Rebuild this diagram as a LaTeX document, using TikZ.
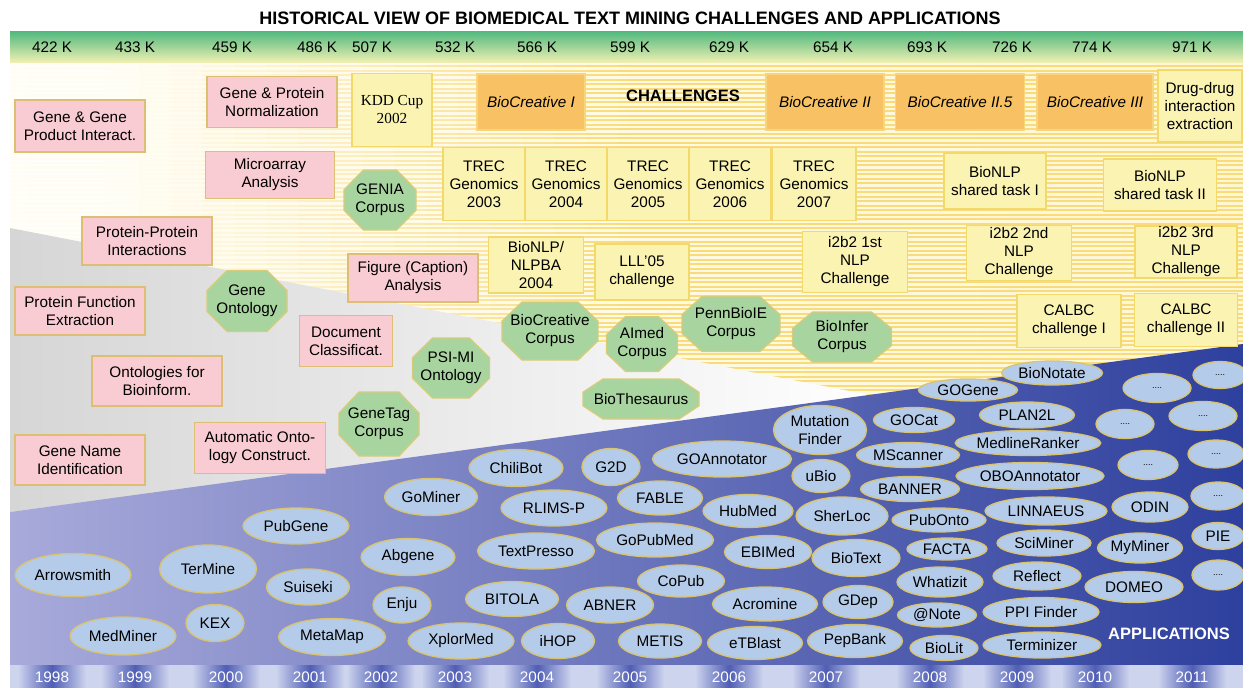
\documentclass[tikz,border=0pt]{standalone}
\usepackage{fontspec}
\setmainfont{Liberation Sans}
\newfontfamily\serifface{Liberation Serif}
\usetikzlibrary{shapes.geometric}

\definecolor{pinkF}{HTML}{F8CCD2}
\definecolor{pinkD}{HTML}{DDBE72}
\definecolor{chalF}{HTML}{FAF3B2}
\definecolor{chalD}{HTML}{F3D96A}
\definecolor{orangeF}{HTML}{F8C264}
\definecolor{orangeD}{HTML}{F6D57C}
\definecolor{octF}{HTML}{A8D4A0}
\definecolor{octD}{HTML}{D8CC7A}
\definecolor{appF}{HTML}{B4CCEA}
\definecolor{appD}{HTML}{D8C470}
\definecolor{blueL}{HTML}{A8AADA}
\definecolor{blueM}{HTML}{5865B6}
\definecolor{blueR}{HTML}{2E409E}
\definecolor{grayL}{HTML}{D6D6D6}
\definecolor{bandB}{HTML}{CDD4EE}
\definecolor{blobC}{HTML}{4F5DB4}
\definecolor{stripeC}{HTML}{F8DC7C}
\definecolor{creamL}{HTML}{FFFDF4}
\definecolor{creamR}{HTML}{FFF6D2}
\definecolor{bandTop}{HTML}{4FB87E}
\definecolor{bandMid}{HTML}{CDE8CF}
\definecolor{bandBot}{HTML}{F4F1B4}

\tikzset{
  txt/.style={font=\fontsize{15.3}{18}\selectfont, align=center, text=black},
  boxbase/.style={txt, rectangle, inner sep=0pt, line width=1.3pt},
  pinkbox/.style={boxbase, fill=pinkF, draw=pinkD},
  chalbox/.style={boxbase, fill=chalF, draw=chalD},
  bcbox/.style={boxbase, fill=orangeF, draw=orangeD, font=\fontsize{15.3}{18}\selectfont\itshape},
  octa/.style={fill=octF, draw=octD, line width=1.3pt},
  octtext/.style={txt, inner sep=0pt},
  app/.style={txt, ellipse, inner sep=0pt, fill=appF, draw=appD, line width=1.3pt},
  dotsapp/.style={app, font=\fontsize{9}{10}\selectfont},
  knum/.style={font=\fontsize{15.3}{18}\selectfont},
  yearlab/.style={font=\fontsize{15.3}{18}\selectfont, text=white},
}

% name, x, y, width, height, text
\newcommand\PBox[6]{\node[pinkbox, minimum width=#4pt, minimum height=#5pt] (#1) at (#2,#3) {#6};}
\newcommand\CBox[6]{\node[chalbox, minimum width=#4pt, minimum height=#5pt] (#1) at (#2,#3) {#6};}
\newcommand\OBox[6]{\node[bcbox, minimum width=#4pt, minimum height=#5pt] (#1) at (#2,#3) {#6};}
\newcommand\App[6]{\node[app, minimum width=#4pt, minimum height=#5pt] (#1) at (#2,#3) {#6};}
\newcommand\Dots[5]{\node[dotsapp, minimum width=#4pt, minimum height=#5pt] (#1) at (#2,#3) {....};}
\newcommand\GOct[6]{%
  \pgfmathsetmacro\oHW{#4/2}\pgfmathsetmacro\oHH{#5/2}%
  \pgfmathsetmacro\oDX{min(20,#4*0.27)}\pgfmathsetmacro\oDY{#5*0.33}%
  \path[octa] ({#2-\oHW+\oDX},{#3-\oHH}) -- ({#2+\oHW-\oDX},{#3-\oHH})
    -- ({#2+\oHW},{#3-\oHH+\oDY}) -- ({#2+\oHW},{#3+\oHH-\oDY})
    -- ({#2+\oHW-\oDX},{#3+\oHH}) -- ({#2-\oHW+\oDX},{#3+\oHH})
    -- ({#2-\oHW},{#3+\oHH-\oDY}) -- ({#2-\oHW},{#3-\oHH+\oDY}) -- cycle;
  \node[octtext] (#1) at (#2,#3) {#6};}

\begin{document}
\begin{tikzpicture}[x=1pt,y=-1pt]
\useasboundingbox (0,0) rectangle (1243,688);
\fill[white] (0,0) rectangle (1243,688);
\clip (0,0) rectangle (1243,688);

% title
\node[font=\fontsize{18}{20}\selectfont\bfseries] (title) at (630,18)
  {HISTORICAL VIEW OF BIOMEDICAL TEXT MINING CHALLENGES AND APPLICATIONS};

% yearly counts band
\shade[top color=bandTop, middle color=bandMid, bottom color=bandBot] (10,31) rectangle (1243,63);
\foreach \nm/\xx/\lab in {k1/52/422 K, k2/135/433 K, k3/232/459 K, k4/317/486 K, k5/372/507 K,
  k6/455/532 K, k7/537/566 K, k8/630/599 K, k9/729/629 K, k10/833/654 K, k11/927/693 K,
  k12/1012/726 K, k13/1092/774 K, k14/1192/971 K}
  \node[knum] (\nm) at (\xx,47) {\lab};

% challenge area: cream ground with yellow stripes growing stronger to the right
\shade[left color=creamL, right color=creamR] (10,63) rectangle (1243,665);
\foreach \i in {0,...,38} {
  \pgfmathsetmacro\xa{10+\i*32}
  \pgfmathsetmacro\xb{min(1243,\xa+32)}
  \pgfmathtruncatemacro\kk{min(100,max(4,(\i-2)*6))}
  \draw[line width=2pt, stripeC!\kk!white]
    \foreach \yy in {66,70.5,...,402} {(\xa,\yy) -- (\xb,\yy)};
}

% methods wedge
\shade[left color=grayL, right color=white] (10,228) -- (885,398) -- (10,512) -- cycle;

% applications wedge
\shade[left color=blueL, middle color=blueM, right color=blueR]
  (10,512) -- (1243,344) -- (1243,665) -- (10,665) -- cycle;

% years band: light strip with a darker glow behind each year
\fill[bandB] (10,665) rectangle (1243,688);
\foreach \xx in {52,135,226,310,381,455,537,630,729,826,930,1017,1095,1192} {
  \shade[left color=bandB, right color=blobC] ({\xx-34},665) rectangle (\xx,688);
  \shade[left color=blobC, right color=bandB] (\xx,665) rectangle ({\xx+34},688);
}
\foreach \nm/\xx/\lab in {y98/52/1998, y99/135/1999, y00/226/2000, y01/310/2001, y02/381/2002,
  y03/455/2003, y04/537/2004, y05/630/2005, y06/729/2006, y07/826/2007, y08/930/2008,
  y09/1017/2009, y10/1095/2010, y11/1192/2011}
  \node[yearlab] (\nm) at (\xx,677) {\lab};

% method topics
\PBox{pGG}{80}{126}{130}{52}{Gene \& Gene\\Product Interact.}
\PBox{pGPN}{272}{102}{130}{51}{Gene \& Protein\\Normalization}
\PBox{pMA}{270}{175}{129}{47}{Microarray\\Analysis}
\PBox{pPPI}{147}{241}{130}{48}{Protein-Protein\\Interactions}
\PBox{pPFE}{80}{311}{130}{48}{Protein Function\\Extraction}
\PBox{pOB}{157}{381}{130}{50}{Ontologies for\\Bioinform.}
\PBox{pGNI}{80}{460}{130}{50}{Gene Name\\Identification}
\PBox{pAOC}{260}{448}{131}{51}{Automatic Onto-\\logy Construct.}
\PBox{pDC}{346}{341}{93}{51}{Document\\Classificat.}
\PBox{pFCA}{413}{278}{130}{48}{Figure (Caption)\\Analysis}

% challenges
\node[chalbox, minimum width=80pt, minimum height=73pt, font=\fontsize{15.3}{18}\selectfont\serifface] (cKDD) at (392,110) {KDD Cup\\2002};
\CBox{cT03}{484}{184}{82}{73}{TREC\\Genomics\\2003}
\CBox{cT04}{566}{184}{82}{73}{TREC\\Genomics\\2004}
\CBox{cT05}{648}{184}{82}{73}{TREC\\Genomics\\2005}
\CBox{cT06}{730}{184}{82}{73}{TREC\\Genomics\\2006}
\CBox{cT07}{814}{184}{84}{73}{TREC\\Genomics\\2007}
\CBox{cNLPBA}{536}{265}{95}{56}{BioNLP/\\NLPBA\\2004}
\CBox{cLLL}{642}{272}{94}{56}{LLL'05\\challenge}
\CBox{cI2a}{855}{262}{105}{61}{i2b2 1st\\NLP\\Challenge}
\CBox{cI2b}{1019}{253}{105}{55}{i2b2 2nd\\NLP\\Challenge}
\CBox{cI2c}{1186}{252}{102}{52}{i2b2 3rd\\NLP\\Challenge}
\CBox{cCal1}{1069}{321}{104}{53}{CALBC\\challenge I}
\CBox{cCal2}{1186}{320}{103}{53}{CALBC\\challenge II}
\CBox{cBN1}{995}{181}{102}{56}{BioNLP\\shared task I}
\CBox{cBN2}{1160}{185}{113}{52}{BioNLP\\shared task II}
\CBox{cDDI}{1200}{106}{84}{72}{Drug-drug\\interaction\\extraction}
\OBox{oBC1}{531}{102}{108}{56}{BioCreative I}
\OBox{oBC2}{825}{102}{118}{56}{BioCreative II}
\OBox{oBC25}{960}{102}{129}{56}{BioCreative II.5}
\OBox{oBC3}{1095}{102}{116}{56}{BioCreative III}
\node[font=\fontsize{16.5}{18}\selectfont\bfseries] (chal) at (683,96) {CHALLENGES};

% corpora and resources
\GOct{gGENIA}{380}{200}{72}{60}{GENIA\\Corpus}
\GOct{gGO}{247}{301}{80}{61}{Gene\\Ontology}
\GOct{gPSI}{451}{368}{77}{60}{PSI-MI\\Ontology}
\GOct{gGT}{379}{424}{80}{64}{GeneTag\\Corpus}
\GOct{gBCC}{550}{331}{96}{58}{BioCreative\\Corpus}
\GOct{gAImed}{642}{344}{71}{55}{AImed\\Corpus}
\GOct{gPenn}{731}{324}{98}{55}{PennBioIE\\Corpus}
\GOct{gInfer}{842}{337}{99}{50}{BioInfer\\Corpus}
\GOct{gThes}{641}{399}{116}{40}{BioThesaurus}

% applications
\App{aArrow}{73}{575}{116}{43}{Arrowsmith}
\App{aTerMine}{208}{569}{97}{48}{TerMine}
\App{aPubGene}{296}{526}{106}{36}{PubGene}
\App{aSuiseki}{308}{587}{83}{36}{Suiseki}
\App{aMedMiner}{123}{636}{106}{38}{MedMiner}
\App{aKEX}{215}{623}{58}{37}{KEX}
\App{aMetaMap}{332}{637}{107}{37}{MetaMap}
\App{aGoMiner}{431}{497}{93}{37}{GoMiner}
\App{aAbgene}{408}{557}{94}{37}{Abgene}
\App{aEnju}{402}{605}{58}{36}{Enju}
\App{aXplor}{461}{641}{106}{36}{XplorMed}
\App{aChili}{516}{468}{94}{37}{ChiliBot}
\App{aG2D}{611}{467}{58}{37}{G2D}
\App{aGOAnn}{722}{459}{139}{36}{GOAnnotator}
\App{aRLIMS}{554}{508}{106}{36}{RLIMS-P}
\App{aFABLE}{660}{498}{85}{34}{FABLE}
\App{aHubMed}{748}{511}{90}{33}{HubMed}
\App{aTextPresso}{536}{551}{117}{36}{TextPresso}
\App{aGoPubMed}{655}{540}{117}{34}{GoPubMed}
\App{aEBIMed}{768}{552}{87}{33}{EBIMed}
\App{aCoPub}{681}{581}{87}{32}{CoPub}
\App{aBITOLA}{512}{599}{93}{35}{BITOLA}
\App{aABNER}{610}{605}{87}{36}{ABNER}
\App{aAcromine}{765}{604}{105}{34}{Acromine}
\App{aiHOP}{558}{641}{73}{35}{iHOP}
\App{aMETIS}{660}{641}{83}{34}{METIS}
\App{aeTBlast}{755}{643}{95}{33}{eTBlast}
\App{aMutF}{820}{430}{93}{49}{Mutation\\Finder}
\App{auBio}{821}{476}{58}{33}{uBio}
\App{aSherLoc}{842}{516}{92}{38}{SherLoc}
\App{aBioText}{856}{558}{88}{37}{BioText}
\App{aGDep}{858}{602}{70}{33}{GDep}
\App{aPepBank}{855}{641}{95}{33}{PepBank}
\App{aGOGene}{968}{390}{99}{22}{GOGene}
\App{aBioNotate}{1052}{373}{101}{24}{BioNotate}
\App{aGOCat}{914}{420}{81}{25}{GOCat}
\App{aPLAN2L}{1027}{415}{95}{26}{PLAN2L}
\App{aMScanner}{908}{455}{103}{25}{MScanner}
\App{aMedlineR}{1028}{443}{145}{25}{MedlineRanker}
\App{aBANNER}{910}{489}{99}{25}{BANNER}
\App{aOBO}{1030}{476}{148}{27}{OBOAnnotator}
\App{aPubOnto}{939}{520}{94}{24}{PubOnto}
\App{aLINN}{1046}{511}{122}{28}{LINNAEUS}
\App{aFACTA}{947}{549}{80}{22}{FACTA}
\App{aSciMiner}{1044}{543}{94}{26}{SciMiner}
\App{aWhatizit}{940}{582}{86}{30}{Whatizit}
\App{aReflect}{1037}{576}{88}{28}{Reflect}
\App{aNote}{937}{615}{79}{24}{@Note}
\App{aPPI}{1041}{612}{116}{29}{PPI Finder}
\App{aBioLit}{944}{648}{68}{25}{BioLit}
\App{aTermin}{1042}{645}{118}{26}{Terminizer}
\App{aODIN}{1150}{507}{76}{30}{ODIN}
\App{aMyMiner}{1140}{548}{85}{30}{MyMiner}
\App{aDOMEO}{1134}{587}{98}{31}{DOMEO}
\App{aPIE}{1218}{536}{52}{27}{PIE}
\Dots{d1}{1157}{388}{68}{29}
\Dots{d2}{1220}{375}{54}{27}
\Dots{d3}{1125}{424}{58}{29}
\Dots{d4}{1203}{416}{68}{29}
\Dots{d5}{1216}{454}{56}{28}
\Dots{d6}{1148}{465}{60}{29}
\Dots{d7}{1218}{496}{54}{28}
\Dots{d8}{1218}{575}{52}{30}
\node[font=\fontsize{16.5}{18}\selectfont\bfseries, text=white] (appl) at (1169,634) {APPLICATIONS};
\end{tikzpicture}
\end{document}
